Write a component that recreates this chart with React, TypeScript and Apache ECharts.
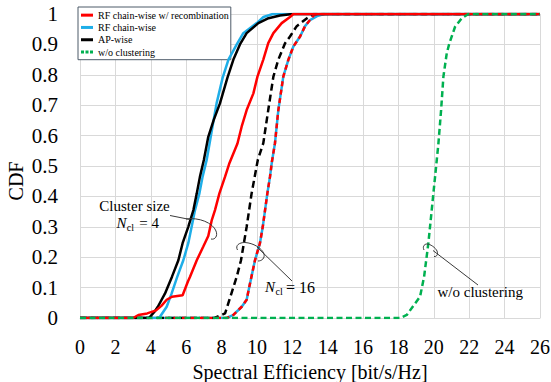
import React, { useEffect, useRef } from 'react';
import * as echarts from 'echarts';

const FONT = 'Liberation Serif';

// Legend labels
const legendNames = ['RF chain-wise w/ recombination', 'RF chain-wise', 'AP-wise', 'w/o clustering'];

// CDF curves: [spectral efficiency (bit/s/Hz), CDF]
const rfRecomb4: [number, number][] = [
  [0, 0], [3.0, 0], [3.3, 0.01], [3.8, 0.015], [4.3, 0.025], [4.6, 0.04], [4.9, 0.06], [5.2, 0.07],
  [5.8, 0.075], [6.1, 0.12], [6.22, 0.136], [6.6, 0.19], [6.97, 0.235], [7.25, 0.27], [7.44, 0.32],
  [7.63, 0.355], [7.88, 0.41], [8.2, 0.465], [8.45, 0.51], [8.9, 0.574], [9.14, 0.63], [9.42, 0.684],
  [9.8, 0.739], [10.03, 0.794], [10.36, 0.85], [10.64, 0.904], [10.93, 0.937], [11.4, 0.97],
  [11.87, 0.99], [12.06, 1], [26, 1],
];
const rfChain4: [number, number][] = [
  [0, 0], [4.4, 0], [4.52, 0.004], [4.9, 0.037], [5.18, 0.081], [5.5, 0.136], [5.84, 0.19],
  [6.12, 0.246], [6.31, 0.3], [6.5, 0.355], [6.75, 0.41], [6.93, 0.465], [7.16, 0.52], [7.39, 0.596],
  [7.55, 0.65], [7.72, 0.706], [8.06, 0.79], [8.39, 0.85], [8.86, 0.9], [9.23, 0.937], [9.99, 0.97],
  [10.37, 0.99], [10.9, 1], [26, 1],
];
const apWise4: [number, number][] = [
  [0, 0], [3.9, 0], [4.2, 0.02], [4.4, 0.037], [4.8, 0.08], [5.2, 0.136], [5.56, 0.19], [5.8, 0.246],
  [6.12, 0.3], [6.41, 0.355], [6.6, 0.41], [6.78, 0.465], [7.0, 0.52], [7.25, 0.596], [7.55, 0.65],
  [7.91, 0.706], [8.33, 0.79], [8.67, 0.85], [9.04, 0.9], [9.42, 0.937], [10.08, 0.97], [10.6, 0.985],
  [11.3, 0.995], [12.0, 1], [26, 1],
];
const rfRecomb16: [number, number][] = [
  [0, 0], [8.3, 0], [8.67, 0.01], [9.14, 0.037], [9.42, 0.06], [9.57, 0.103], [9.89, 0.19],
  [10.17, 0.246], [10.33, 0.3], [10.46, 0.355], [10.59, 0.41], [10.74, 0.465], [10.85, 0.515],
  [11.02, 0.575], [11.21, 0.684], [11.49, 0.794], [11.78, 0.85], [12.06, 0.893], [12.44, 0.926],
  [12.72, 0.96], [13.0, 0.98], [13.2, 0.995], [13.4, 1], [26, 1],
];
const rfChain16: [number, number][] = [
  [0, 0], [8.3, 0], [8.67, 0.01], [9.14, 0.037], [9.42, 0.06], [9.57, 0.103], [9.89, 0.19],
  [10.17, 0.246], [10.33, 0.3], [10.46, 0.355], [10.59, 0.41], [10.74, 0.465], [10.85, 0.515],
  [11.02, 0.575], [11.21, 0.684], [11.49, 0.794], [11.78, 0.85], [12.06, 0.893], [12.44, 0.926],
  [12.72, 0.96], [13.0, 0.98], [13.4, 0.993], [13.8, 1], [26, 1],
];
const apWise16: [number, number][] = [
  [0, 0], [7.6, 0], [8.2, 0.015], [8.5, 0.07], [8.86, 0.136], [9.1, 0.19], [9.42, 0.3], [9.7, 0.41],
  [10.05, 0.52], [10.36, 0.575], [10.64, 0.684], [10.93, 0.794], [11.21, 0.85], [11.59, 0.904],
  [11.87, 0.926], [12.25, 0.96], [12.81, 0.985], [13.2, 1], [26, 1],
];
const noClustering: [number, number][] = [
  [0, 0], [18.1, 0], [18.47, 0.01], [18.94, 0.048], [19.22, 0.07], [19.45, 0.136], [19.69, 0.246],
  [19.88, 0.355], [20.07, 0.465], [20.26, 0.575], [20.41, 0.684], [20.54, 0.794], [20.73, 0.871],
  [20.88, 0.904], [21.2, 0.958], [21.58, 0.986], [21.95, 1], [26, 1],
];

const RED = '#ff0000';
const CYAN = '#1eaee8';
const BLACK = '#000000';
const GREEN = '#00b050';
const GRID = '#d9d9d9';
const INK = '#3a3a3a';

echarts.graphic.registerShape(
  'arc4',
  echarts.graphic.extendPath('M186,219 C199,217 213,223 216,231 C218,236 215,240 211,239', {})
);
echarts.graphic.registerShape(
  'arc16',
  echarts.graphic.extendPath('M237.5,250 C235,245.5 239,242.5 245,242.5 C253,243 262,248 264,254 C265,258 262,261 258,261', {})
);
echarts.graphic.registerShape(
  'arcwo',
  echarts.graphic.extendPath('M424,250 C422,246 425,243.5 428,244 C432,245 437,249 437.5,252.5 C438,255 436,257 434,256.5', {})
);

function lineSeries(name: string, data: [number, number][], color: string, width: number, type: any, z: number) {
  return {
    type: 'line',
    name,
    data,
    showSymbol: false,
    symbol: 'none',
    smooth: false,
    z,
    lineStyle: { color, width, type },
    itemStyle: { color },
    emphasis: { disabled: true },
  };
}

function txt(text: string, x: number, y: number, size: number, extra: any = {}) {
  return {
    type: 'text',
    x,
    y,
    z: 100,
    style: { text, fill: '#000', font: `${extra.italic ? 'italic ' : ''}${size}px ${FONT}`, align: extra.align || 'left', verticalAlign: 'middle' },
  };
}

const SOLID_ICON = 'path://M0,0 L12,0 L12,3 L0,3 Z';
const DOTTED_ICON = 'path://M0,0h3v3h-3z M4.5,0h3v3h-3z M9,0h3v3h-3z';

export default function App() {
  const ref = useRef<HTMLDivElement>(null);
  useEffect(() => {
    const chart = echarts.init(ref.current!, null, { renderer: 'svg' });
    const option: any = {
      animation: false,
      backgroundColor: '#fff',
      textStyle: { fontFamily: FONT },
      grid: { left: 80, right: 11, top: 14, bottom: 64, containLabel: false, outerBoundsMode: 'none' },
      xAxis: {
        type: 'value',
        min: 0,
        max: 26,
        interval: 2,
        axisLine: { show: true, lineStyle: { color: GRID } },
        axisTick: { show: false },
        splitLine: { show: true, lineStyle: { color: GRID, width: 1 } },
        axisLabel: { fontFamily: FONT, fontSize: 20, color: '#000', margin: 19 },
        name: 'Spectral Efficiency [bit/s/Hz]',
        nameLocation: 'middle',
        nameGap: 40,
        nameTextStyle: { fontFamily: FONT, fontSize: 20, color: '#000' },
      },
      yAxis: {
        type: 'value',
        min: 0,
        max: 1,
        interval: 0.1,
        axisLine: { show: true, lineStyle: { color: GRID } },
        axisTick: { show: false },
        splitLine: { show: true, lineStyle: { color: GRID, width: 1 } },
        axisLabel: { fontFamily: FONT, fontSize: 21, color: '#000', margin: 22 },
      },
      legend: {
        orient: 'vertical',
        left: 78,
        top: 7,
        backgroundColor: '#fff',
        borderColor: '#4d5b69',
        borderWidth: 1,
        borderRadius: 0,
        padding: [2, 2, 1.5, 3],
        itemGap: 0,
        itemWidth: 12,
        itemHeight: 3,
        selectedMode: false,
        textStyle: { fontFamily: FONT, fontSize: 10, color: '#000', lineHeight: 12.3 },
        data: [
          { name: legendNames[0], icon: SOLID_ICON, itemStyle: { color: RED } },
          { name: legendNames[1], icon: SOLID_ICON, itemStyle: { color: CYAN } },
          { name: legendNames[2], icon: SOLID_ICON, itemStyle: { color: BLACK } },
          { name: legendNames[3], icon: DOTTED_ICON, itemStyle: { color: GREEN } },
        ],
      },
      series: [
        lineSeries('RF chain-wise (Ncl=16)', rfChain16, CYAN, 2.5, 'solid', 2),
        lineSeries('AP-wise (Ncl=16)', apWise16, BLACK, 2.5, [7, 4], 3),
        lineSeries('RF chain-wise w/ recombination (Ncl=16)', rfRecomb16, RED, 2.5, [5, 3.5], 4),
        lineSeries(legendNames[1], rfChain4, CYAN, 2.5, 'solid', 5),
        lineSeries(legendNames[2], apWise4, BLACK, 2.5, 'solid', 6),
        lineSeries(legendNames[0], rfRecomb4, RED, 2.5, 'solid', 7),
        lineSeries(legendNames[3], noClustering, GREEN, 2.5, [6, 3.5], 8),
      ],
      graphic: [
        {
          type: 'text',
          x: 16,
          y: 181,
          rotation: Math.PI / 2,
          z: 100,
          style: { text: 'CDF', fill: '#000', font: `20px ${FONT}`, align: 'center', verticalAlign: 'middle' },
        },
        txt('Cluster size', 134.5, 206, 15, { align: 'center' }),
        txt('N', 116.5, 223.3, 15, { italic: true }),
        txt('cl', 126.8, 227.6, 10),
        txt('= 4', 139.3, 223.3, 15),
        txt('N', 265, 287, 15, { italic: true }),
        txt('cl', 275.5, 291, 10),
        txt('= 16', 286, 287, 16),
        txt('w/o clustering', 437.5, 292, 15),
        { type: 'line', z: 100, shape: { x1: 170, y1: 215.5, x2: 190, y2: 219.5 }, style: { stroke: INK, lineWidth: 1 } },
        { type: 'line', z: 100, shape: { x1: 257, y1: 247, x2: 292, y2: 281 }, style: { stroke: INK, lineWidth: 1 } },
        { type: 'line', z: 100, shape: { x1: 433, y1: 250.5, x2: 478, y2: 285 }, style: { stroke: INK, lineWidth: 1 } },
        { type: 'arc4', z: 100, style: { stroke: INK, fill: 'none', lineWidth: 1 } },
        { type: 'arc16', z: 100, style: { stroke: INK, fill: 'none', lineWidth: 1 } },
        { type: 'arcwo', z: 100, style: { stroke: INK, fill: 'none', lineWidth: 1 } },
      ],
    };
    chart.setOption(option);
    return () => chart.dispose();
  }, []);
  return <div ref={ref} style={{ position: 'fixed', left: 0, top: 0, width: 551, height: 382, background: '#fff' }} />;
}
